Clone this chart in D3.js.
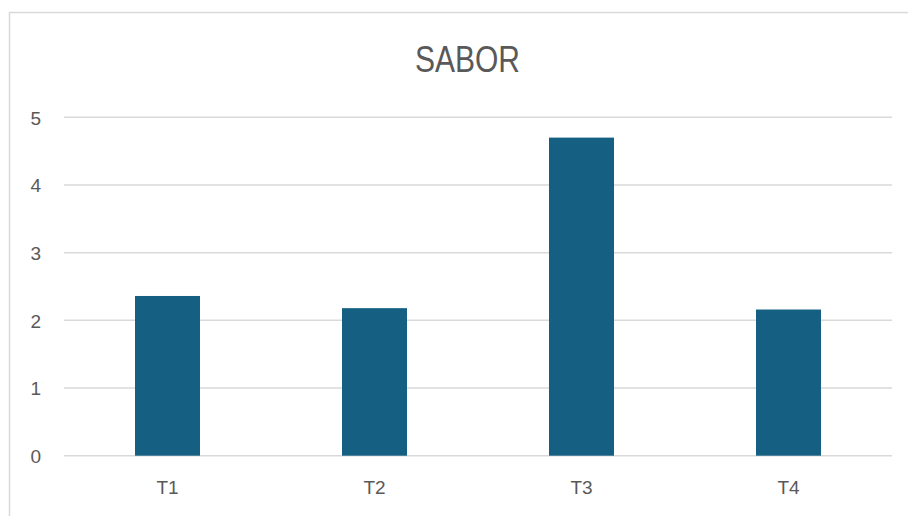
<!DOCTYPE html>
<html>
<head>
<meta charset="utf-8">
<script src="https://cdn.jsdelivr.net/npm/d3@7"></script>
<style>
  html, body { margin: 0; padding: 0; background: #ffffff; }
  svg { display: block; }
</style>
</head>
<body>
<svg id="chart" width="908" height="516"></svg>
<script>
// Chart data
const categories = ["T1", "T2", "T3", "T4"];
const values = [2.36, 2.18, 4.70, 2.16];
const yTicks = [0, 1, 2, 3, 4, 5];
const titleText = "SABOR";

const svg = d3.select("#chart");
const W = 908, H = 516;
const plot = { left: 64, right: 892, top: 117.3, bottom: 455.7 };
const textColor = "#595959";
const gridColor = "#d9d9d9";
const barColor = "#156082";

// Outer chart frame (extends beyond the visible window on right and bottom)
svg.append("rect")
  .attr("x", 9.5).attr("y", 12.5)
  .attr("width", 940).attr("height", 540)
  .attr("fill", "#ffffff")
  .attr("stroke", "#d9d9d9")
  .attr("stroke-width", 1.5);

const x = d3.scaleBand()
  .domain(categories)
  .range([plot.left, plot.right])
  .paddingInner(0.686)
  .paddingOuter(0.343);

const y = d3.scaleLinear()
  .domain([0, 5])
  .range([plot.bottom, plot.top]);

// Horizontal gridlines
svg.append("g")
  .selectAll("line")
  .data(yTicks)
  .join("line")
  .attr("x1", plot.left).attr("x2", plot.right)
  .attr("y1", d => y(d)).attr("y2", d => y(d))
  .attr("stroke", gridColor)
  .attr("stroke-width", 1.5);

// Y axis labels
const yAxis = d3.axisLeft(y).tickValues(yTicks).tickSize(0).tickPadding(0).tickFormat(d3.format("d"));
const gy = svg.append("g")
  .attr("transform", `translate(${plot.left - 23},0)`)
  .call(yAxis);
gy.select(".domain").remove();
gy.selectAll("text")
  .attr("fill", textColor)
  .attr("font-family", "'Liberation Sans', Arial, sans-serif")
  .attr("font-size", "19px")
  .attr("dy", "0.36em");

// Bars
svg.append("g")
  .selectAll("rect")
  .data(values)
  .join("rect")
  .attr("x", (d, i) => x(categories[i]))
  .attr("width", x.bandwidth())
  .attr("y", d => y(d))
  .attr("height", d => y(0) - y(d))
  .attr("fill", barColor);

// X axis labels
const xAxis = d3.axisBottom(x).tickSize(0).tickPadding(0);
const gx = svg.append("g")
  .attr("transform", `translate(0,${plot.bottom})`)
  .call(xAxis);
gx.select(".domain").remove();
gx.selectAll("text")
  .attr("fill", textColor)
  .attr("font-family", "'Liberation Sans', Arial, sans-serif")
  .attr("font-size", "19px")
  .attr("dy", null)
  .attr("y", 38.5);

// Title
svg.append("text")
  .attr("x", 467.5)
  .attr("y", 72)
  .attr("text-anchor", "middle")
  .attr("fill", textColor)
  .attr("font-family", "'Liberation Sans', Arial, sans-serif")
  .attr("font-size", "36px")
  .attr("textLength", 105)
  .attr("lengthAdjust", "spacingAndGlyphs")
  .text(titleText);
</script>
</body>
</html>
